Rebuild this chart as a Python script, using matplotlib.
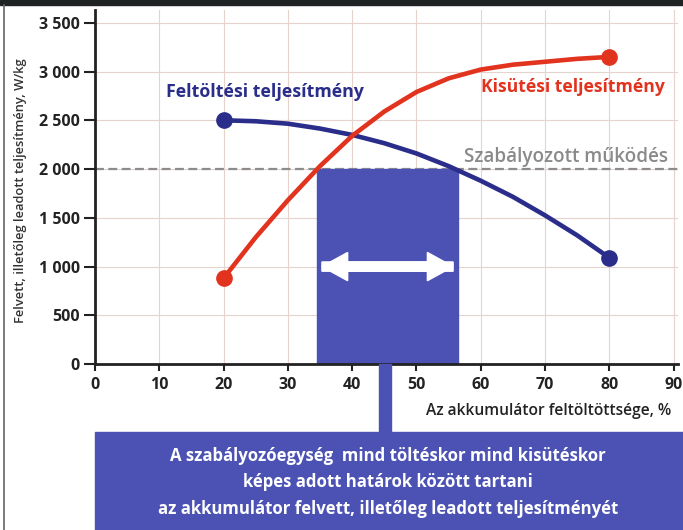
import numpy as np
import matplotlib.pyplot as plt
from matplotlib.patches import Rectangle, FancyArrow

plt.rcParams['font.family'] = ['Open Sans', 'DejaVu Sans']

# charge level, %
soc = [20, 25, 30, 35, 40, 45, 50, 55, 60, 65, 70, 75, 80]
# charging power (felvett), W/kg
charge_power = [2500, 2490, 2465, 2415, 2350, 2265, 2160, 2030, 1880, 1715, 1525, 1320, 1090]
# discharging power (leadott), W/kg
discharge_power = [880, 1300, 1680, 2030, 2340, 2590, 2790, 2930, 3020, 3070, 3100, 3130, 3150]

regulated_level = 2000
band = [34.5, 56.5]   # controlled window on the charge axis
xticks = [0, 10, 20, 30, 40, 50, 60, 70, 80, 90]
yticks = [0, 500, 1000, 1500, 2000, 2500, 3000, 3500]
ytick_labels = ['0', '500', '1 000', '1 500', '2 000', '2 500', '3 000', '3 500']

navy = '#2a2d8a'
red = '#e2331f'
boxblue = '#4b52b3'

fig = plt.figure(figsize=(6.83, 5.30), dpi=100)
fig.patch.set_facecolor('white')

# dark strip on top and thin frame on the left
fig.add_artist(Rectangle((0, 0.99), 1, 0.01, transform=fig.transFigure,
                         color='#1e2222', zorder=0))
fig.add_artist(plt.Line2D([0.006, 0.006], [0, 0.99], transform=fig.transFigure,
                          color='#666666', lw=1.2))

ax = fig.add_axes([0.139, 0.313, 0.853, 0.668])
ax.set_xlim(0, 90.6)
ax.set_ylim(0, 3630)

ax.grid(True, color='#e6d3cc', lw=0.8)
ax.set_axisbelow(True)
for s in ['top', 'right']:
    ax.spines[s].set_visible(False)
for s in ['left', 'bottom']:
    ax.spines[s].set_linewidth(2)
    ax.spines[s].set_color('#222222')

ax.set_xticks(xticks)
ax.set_yticks(yticks)
ax.set_yticklabels(ytick_labels)
ax.tick_params(axis='both', direction='out', width=1.5, color='#222222',
               labelsize=11.5, labelcolor='#222222')
ax.tick_params(axis='y', length=8, pad=3)
ax.tick_params(axis='x', length=5, pad=4)
for lbl in ax.get_xticklabels() + ax.get_yticklabels():
    lbl.set_fontweight('bold')

# regulated operating window
ax.add_patch(Rectangle((band[0], 0), band[1] - band[0], regulated_level,
                       color=boxblue, zorder=2))
ax.add_patch(FancyArrow(35.3, 1000, band[1] - band[0] - 1.6, 0, width=95,
                        head_width=290, head_length=4.0, length_includes_head=True,
                        color='white', zorder=3))
ax.add_patch(FancyArrow(band[1] - 0.8, 1000, -(band[1] - band[0] - 1.6), 0, width=95,
                        head_width=290, head_length=4.0, length_includes_head=True,
                        color='white', zorder=3))

ax.axhline(regulated_level, color='#8c8c8c', lw=1.6, ls=(0, (4, 2)), zorder=1)

ax.plot(soc, charge_power, color=navy, lw=3.3, zorder=4, solid_capstyle='round')
ax.plot(soc, discharge_power, color=red, lw=3.3, zorder=4, solid_capstyle='round')
ax.plot([soc[0], soc[-1]], [charge_power[0], charge_power[-1]], 'o',
        color=navy, ms=11, zorder=5)
ax.plot([soc[0], soc[-1]], [discharge_power[0], discharge_power[-1]], 'o',
        color=red, ms=11, zorder=5)

ax.text(11.1, 2790, 'Feltöltési teljesítmény', color=navy, fontsize=12.8,
        fontweight='bold', va='center')
ax.text(60.0, 2840, 'Kisütési teljesítmény', color=red, fontsize=12.6,
        fontweight='bold', va='center')
ax.text(57.4, 2120, 'Szabályozott működés', color='#8a8a8a', fontsize=13.6,
        fontweight='semibold', va='center')

ax.set_xlabel('Az akkumulátor feltöltöttsége, %', fontsize=11.2, color='#222222',
              fontweight='semibold')
ax.xaxis.set_label_coords(0.99, -0.11)
ax.xaxis.label.set_horizontalalignment('right')

fig.text(0.03, 0.64, 'Felvett, illetőleg leadott teljesítmény, W/kg', rotation=90,
         fontsize=9.3, color='#333333', fontweight='semibold', ha='center', va='center')

# explanation box with its stem down from the window
fig.add_artist(Rectangle((0.5555, 0.185), 0.0175, 0.128, transform=fig.transFigure,
                         color=boxblue, zorder=2))
fig.add_artist(Rectangle((0.139, 0.0), 0.861, 0.185, transform=fig.transFigure,
                         color=boxblue, zorder=2))
fig.text(0.568, 0.090,
         'A szabályozóegység  mind töltéskor mind kisütéskor\n'
         'képes adott határok között tartani\n'
         'az akkumulátor felvett, illetőleg leadott teljesítményét',
         color='white', fontsize=12.1, fontweight='bold', ha='center', va='center',
         linespacing=1.6, zorder=3)

fig.savefig('out.png', dpi=100)
